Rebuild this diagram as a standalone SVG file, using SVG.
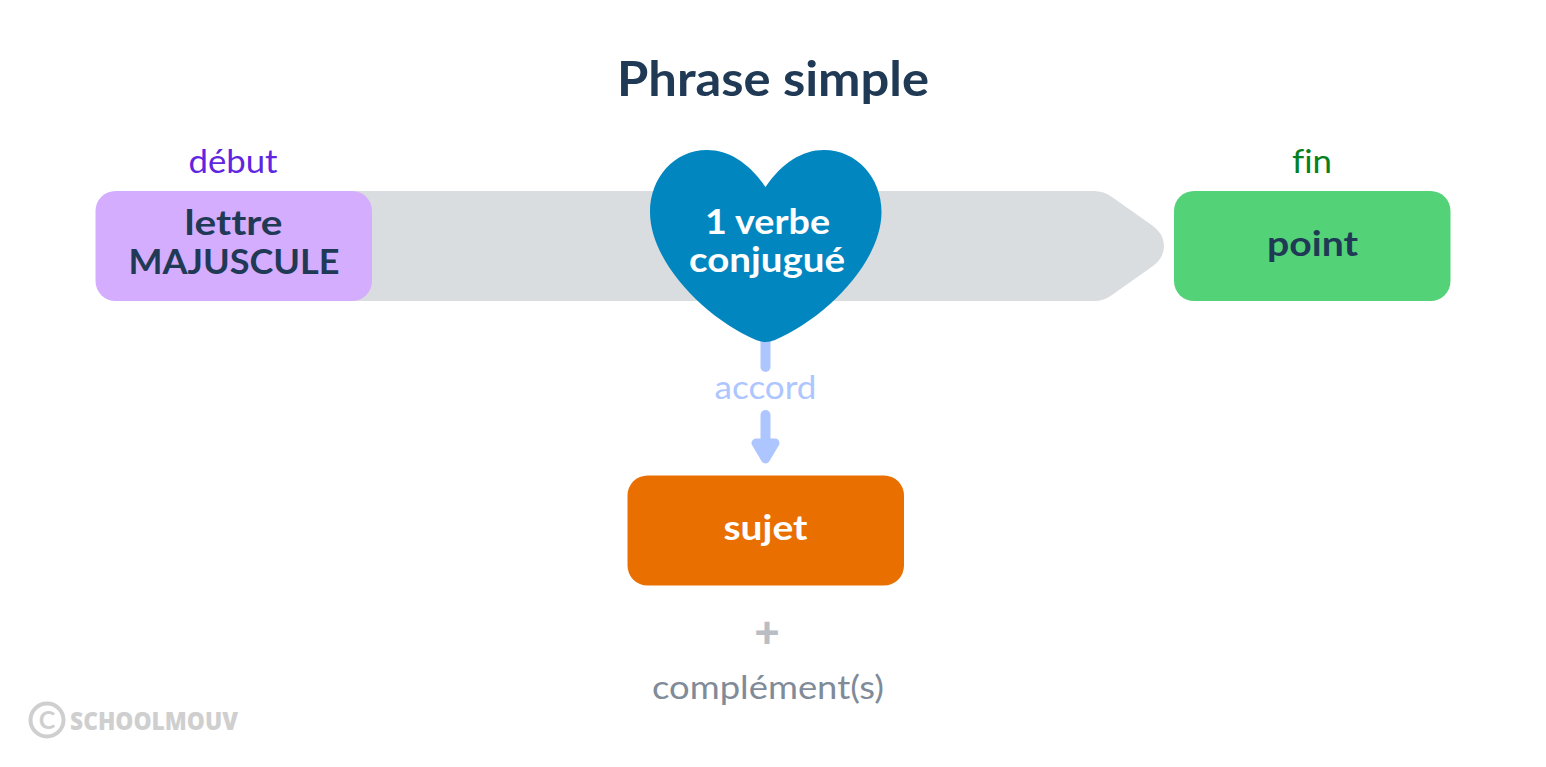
<svg xmlns="http://www.w3.org/2000/svg" width="1546" height="767" viewBox="0 0 1546 767">
<style>
text{font-family:"Lato","Noto Sans",sans-serif;text-anchor:middle;font-variant-ligatures:none}
.b{font-weight:700;font-size:35px}
.r{font-size:33px}
.navy{fill:#203a55}
.w{fill:#fff}
.c{fill:none;stroke:#adc6ff;stroke-width:10px;stroke-linecap:round}
</style>
<rect width="1546" height="767" fill="#fff"/>
<text id="title" x="773" y="96" font-size="48" font-weight="700" class="navy" textLength="312" lengthAdjust="spacingAndGlyphs">Phrase simple</text>
<path id="band" d="M340 191H1094Q1104 191 1112 197L1153 226Q1164 234 1164 246Q1164 258 1153 266L1112 295Q1104 301 1094 301H340Z" fill="#dadde0"/>
<g id="connectors">
<path class="c" d="M765.500 335V367"/>
<path class="c" d="M765.500 415V445"/>
<path d="M756 443H775L765.500 459Z" fill="#adc6ff" stroke="#adc6ff" stroke-width="9" stroke-linejoin="round"/>
</g>
<g id="debut-node">
<text x="233" y="173" class="r" fill="#5f25e0" textLength="89" lengthAdjust="spacingAndGlyphs">début</text>
<rect x="95.500" y="191" width="276.500" height="110" rx="20" fill="#d5adff"/>
<text x="233.500" y="235" class="b navy" textLength="98" lengthAdjust="spacingAndGlyphs">lettre</text>
<text x="234" y="274" class="b navy" textLength="211" lengthAdjust="spacingAndGlyphs">MAJUSCULE</text>
</g>
<g id="verbe-node">
<path d="M765.500 187C782 163 802 150 824 150C857 150 881.500 178 881.500 212C881.500 262 826 318 775 340Q765.500 344 756 340C705 318 650 262 650 212C650 178 674 150 707 150C729 150 749 163 765.500 187Z" fill="#0286bf"/>
<text x="767.500" y="234" class="b w" textLength="125" lengthAdjust="spacingAndGlyphs">1 verbe</text>
<text x="767" y="272" class="b w" textLength="156" lengthAdjust="spacingAndGlyphs">conjugué</text>
</g>
<g id="fin-node">
<text x="1312" y="173" class="r" fill="#067f1c" textLength="40" lengthAdjust="spacingAndGlyphs">fin</text>
<rect x="1174" y="191" width="276.500" height="110" rx="20" fill="#53d278"/>
<text x="1312.500" y="256" class="b navy" textLength="91" lengthAdjust="spacingAndGlyphs">point</text>
</g>
<text id="accord" x="765.500" y="399" class="r" fill="#adc6ff" textLength="102" lengthAdjust="spacingAndGlyphs">accord</text>
<g id="sujet-node">
<rect x="627.500" y="475.500" width="276.500" height="110" rx="20" fill="#e97000"/>
<text x="765.500" y="540" class="b w" textLength="84" lengthAdjust="spacingAndGlyphs">sujet</text>
</g>
<text id="plus" x="767" y="648" font-size="44" font-weight="900" fill="#b9bec4">+</text>
<text id="complement" x="768" y="699" class="r" fill="#7f8b98" textLength="232" lengthAdjust="spacingAndGlyphs">complément(s)</text>
<g id="watermark">
<circle cx="47" cy="720" r="16.500" fill="none" stroke="#cfcfcf" stroke-width="4"/>
<text x="47" y="729" font-size="25" font-weight="700" fill="#cfcfcf">C</text>
<text x="154" y="730" font-size="24" font-weight="800" fill="#cfcfcf" style="font-family:'Open Sans',sans-serif" textLength="168" lengthAdjust="spacingAndGlyphs">SCHOOLMOUV</text>
</g>
</svg>
